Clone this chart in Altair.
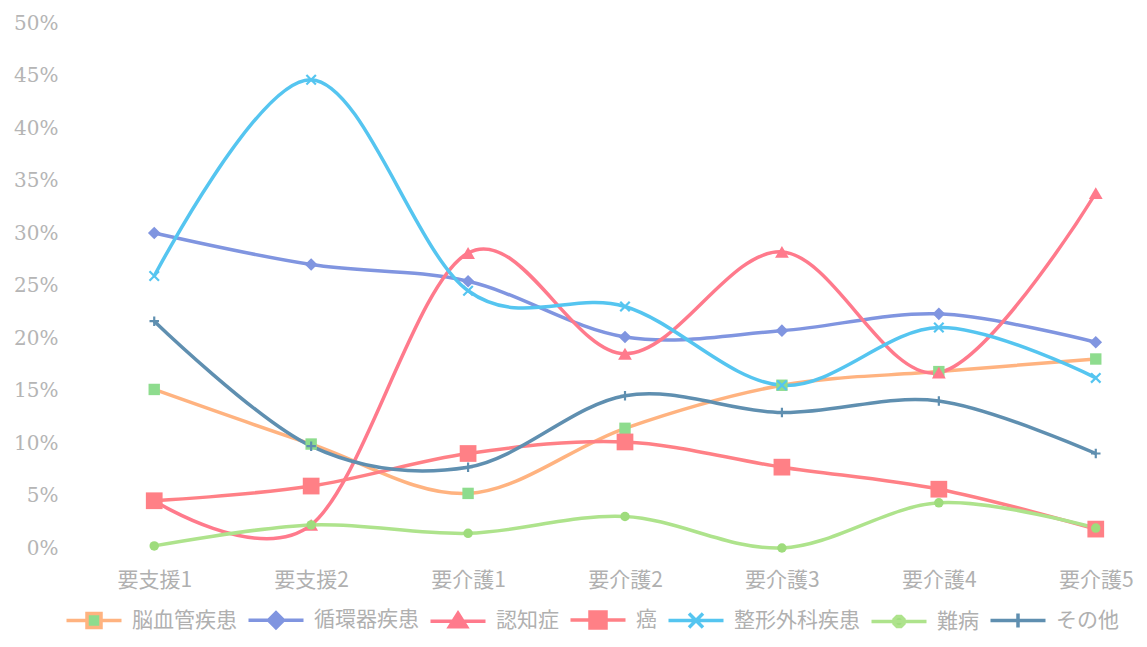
import altair as alt
import pandas as pd

categories = ["要支援1", "要支援2", "要介護1", "要介護2", "要介護3", "要介護4", "要介護5"]
series_names = ["脳血管疾患", "循環器疾患", "認知症", "癌", "整形外科疾患", "難病", "その他"]

cerebrovascular = [15.1, 9.9, 5.2, 11.4, 15.5, 16.8, 18.0]
circulatory = [30.0, 27.0, 25.4, 20.1, 20.7, 22.3, 19.6]
dementia = [4.5, 2.2, 28.1, 18.5, 28.2, 16.7, 33.8]
cancer = [4.5, 5.9, 9.0, 10.1, 7.7, 5.6, 1.8]
orthopedic = [25.9, 44.6, 24.5, 23.0, 15.5, 21.0, 16.2]
intractable = [0.2, 2.2, 1.4, 3.0, 0.0, 4.3, 1.9]
other = [21.6, 9.7, 7.7, 14.5, 12.9, 14.0, 9.0]

series_values = [cerebrovascular, circulatory, dementia, cancer, orthopedic, intractable, other]

# styles
line_colors = ["#FFB380", "#8095E0", "#FF7A8C", "#FF8086", "#55C5F0", "#AEE38C", "#5F8FB0"]
marker_colors = ["#8EDC8E", "#8095E0", "#FF7A8C", "#FF8086", "#55C5F0", "#9EDC7C", "#5F8FB0"]
marker_shapes = [
    "square", "diamond", "triangle-up", "square",
    "M-1,-1L1,1M1,-1L-1,1", "circle", "M0,-1V1M-1,0H1",
]
marker_sizes = [130, 160, 190, 280, 90, 90, 90]
marker_filled = [True, True, True, True, False, True, False]

legend_paths = [
    "M-2.75,0L-0.75,0M0.75,0L2.75,0M-0.7,-0.7L0.7,-0.7L0.7,0.7L-0.7,0.7Z",
    "M-2.75,0L2.75,0M0,-0.75L0.75,0L0,0.75L-0.75,0Z",
    "M-2.75,0L2.75,0M0,-0.8L0.85,0.55L-0.85,0.55Z",
    "M-2.75,0L2.75,0M-0.8,-0.8L0.8,-0.8L0.8,0.8L-0.8,0.8Z",
    "M-2.75,0L2.75,0M-0.7,-0.7L0.7,0.7M0.7,-0.7L-0.7,0.7",
    "M-2.75,0L2.75,0M-0.5,-0.2L-0.2,-0.5L0.2,-0.5L0.5,-0.2L0.5,0.2L0.2,0.5L-0.2,0.5L-0.5,0.2Z",
    "M-2.75,0L2.75,0M0,-0.7L0,0.7",
]

rows = []
for name, vals in zip(series_names, series_values):
    for cat, v in zip(categories, vals):
        rows.append({"category": cat, "series": name, "value": v / 100.0})
df = pd.DataFrame(rows)

x_enc = alt.X(
    "category:N",
    sort=categories,
    scale=alt.Scale(type="point", padding=0.25),
    axis=alt.Axis(
        title=None, labelAngle=0, ticks=False, domain=False, grid=False,
        labelFont="Noto Sans CJK JP", labelFontSize=21, labelColor="#b0b0b0",
        labelPadding=21,
    ),
)
y_enc = alt.Y(
    "value:Q",
    scale=alt.Scale(domain=[0, 0.5], nice=False, zero=True),
    axis=alt.Axis(
        title=None, format=".0%", values=[i * 0.05 for i in range(11)],
        ticks=False, domain=False, grid=False,
        labelFont="DejaVu Serif", labelFontSize=20, labelColor="#b5b5b5",
        labelPadding=57,
    ),
)

leg = alt.Legend(
    title=None, orient="none", direction="horizontal", legendX=-33, legendY=585,
    labelFont="Noto Sans CJK JP", labelFontSize=21, labelColor="#b0b0b0",
    symbolSize=400, symbolStrokeWidth=3.5, symbolOpacity=1,
    labelOffset=26, columnPadding=4, labelLimit=400,
)
stroke_scale = alt.Scale(domain=series_names, range=line_colors)

base = alt.Chart(df)

lines = base.mark_line(interpolate="cardinal", strokeWidth=3.5).encode(
    x=x_enc,
    y=y_enc,
    stroke=alt.Stroke("series:N", scale=stroke_scale, legend=leg),
    detail="series:N",
)

layers = [lines]
for name, col, shp, sz, fl in zip(series_names, marker_colors, marker_shapes, marker_sizes, marker_filled):
    if fl:
        m = base.mark_point(shape=shp, size=sz, filled=True, color=col, opacity=1)
    else:
        m = base.mark_point(shape=shp, size=sz, filled=False, color=col, opacity=1, strokeWidth=2.2)
    layers.append(m.encode(x=x_enc, y=y_enc).transform_filter(alt.datum.series == name))

# helper layer with no rows: it only supplies the legend symbols (line + marker)
legend_layer = base.mark_point(opacity=1, size=400, strokeWidth=3.5).encode(
    shape=alt.Shape("series:N", scale=alt.Scale(domain=series_names, range=legend_paths), legend=leg),
    fill=alt.Fill("series:N", scale=alt.Scale(domain=series_names, range=marker_colors), legend=leg),
    stroke=alt.Stroke("series:N", scale=stroke_scale, legend=leg),
).transform_filter(alt.datum.value < -1)
layers.append(legend_layer)

chart = alt.layer(*layers).properties(
    width=1020, height=525,
    padding={"left": 5, "top": 5, "right": 0, "bottom": 0},
).configure_view(stroke=None)

chart.save("out.html", embed_options={"renderer": "svg", "actions": False})
